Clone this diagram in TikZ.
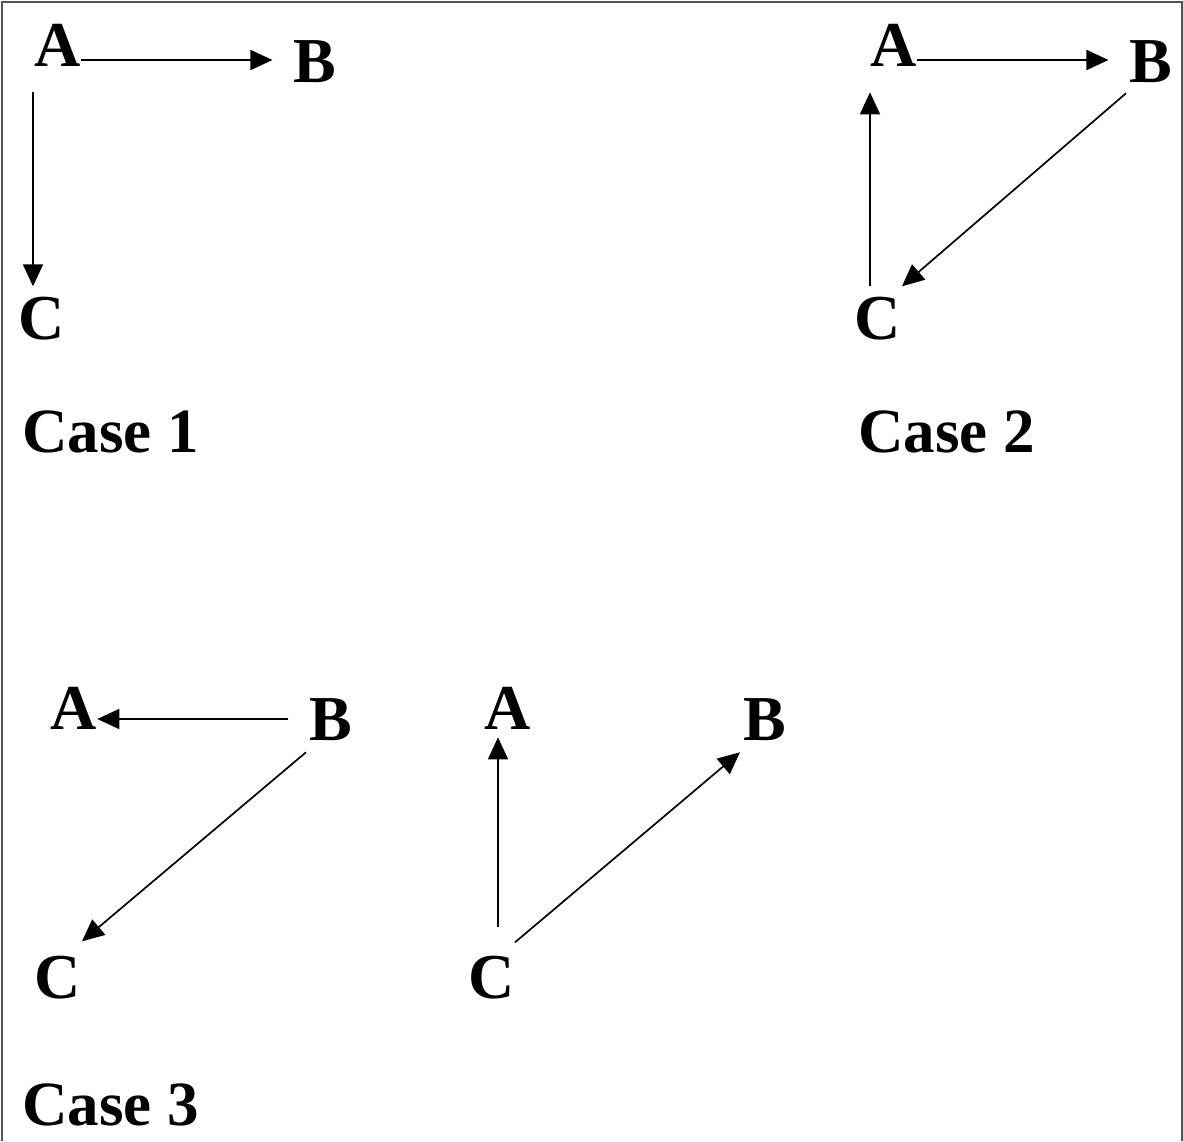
\documentclass[tikz,border=0pt]{standalone}
\usepackage{fontspec}
\setmainfont{Liberation Serif}
\usepackage{tikz}
\usetikzlibrary{arrows.meta}
\definecolor{frame}{RGB}{85, 85, 85}

\begin{document}
\begin{tikzpicture}[
    x=1pt, y=-1pt,
    letter/.style={font=\fontsize{64}{72}\selectfont\bfseries, inner sep=0pt},
    caption/.style={font=\fontsize{63}{72}\selectfont\bfseries, inner sep=0pt, anchor=base west},
    arrow/.style={-{Triangle[length=22pt,width=20pt]}, line width=1.7pt, draw=black}
]
\useasboundingbox (0,0) rectangle (1183,1141);
\draw[frame, line width=2pt] (1.5,1141) -- (1.5,1.5) -- (1181.5,1.5) -- (1181.5,1141);

% case 1
\node[letter] (oneA) at (58,45) {A};
\node[letter] (oneB) at (315,62) {B};
\node[letter] (oneC) at (42,319) {C};
\node[caption] (oneT) at (22,452) {Case 1};
\draw[arrow] ([yshift=-15pt]oneA.east) -- ([xshift=-21pt,yshift=2pt]oneB.west);
\draw[arrow] ([xshift=-25pt,yshift=-26pt]oneA.south) -- ([xshift=-9pt,yshift=11pt]oneC.north);

% case 2
\node[letter] (twoA) at (894,45) {A};
\node[letter] (twoB) at (1151,62) {B};
\node[letter] (twoC) at (878,319) {C};
\node[caption] (twoT) at (858,452) {Case 2};
\draw[arrow] ([yshift=-15pt]twoA.east) -- ([xshift=-21pt,yshift=2pt]twoB.west);
\draw[arrow] ([xshift=-8pt,yshift=11pt]twoC.north) -- ([xshift=-24pt,yshift=-26pt]twoA.south);
\draw[arrow] ([xshift=-25pt,yshift=-10pt]twoB.south) -- ([xshift=24pt,yshift=11pt]twoC.north);

% case 3
\node[letter] (threeA) at (74,708) {A};
\node[letter] (threeB) at (331,720) {B};
\node[letter] (threeC) at (58,978) {C};
\node[caption] (threeT) at (22,1125) {Case 3};
\draw[arrow] ([xshift=-21pt,yshift=1pt]threeB.west) -- ([yshift=-11pt]threeA.east);
\draw[arrow] ([xshift=-25pt,yshift=-11pt]threeB.south) -- ([xshift=24pt,yshift=15pt]threeC.north);

\node[letter] (fourA) at (508,708) {A};
\node[letter] (fourB) at (765,720) {B};
\node[letter] (fourC) at (492,978) {C};
\draw[arrow] ([xshift=6pt,yshift=29pt]fourC.north) -- ([xshift=-10pt,yshift=-8pt]fourA.south);
\draw[arrow] ([xshift=23pt,yshift=14pt]fourC.north) -- ([xshift=-25pt,yshift=-11pt]fourB.south);

\end{tikzpicture}
\end{document}
